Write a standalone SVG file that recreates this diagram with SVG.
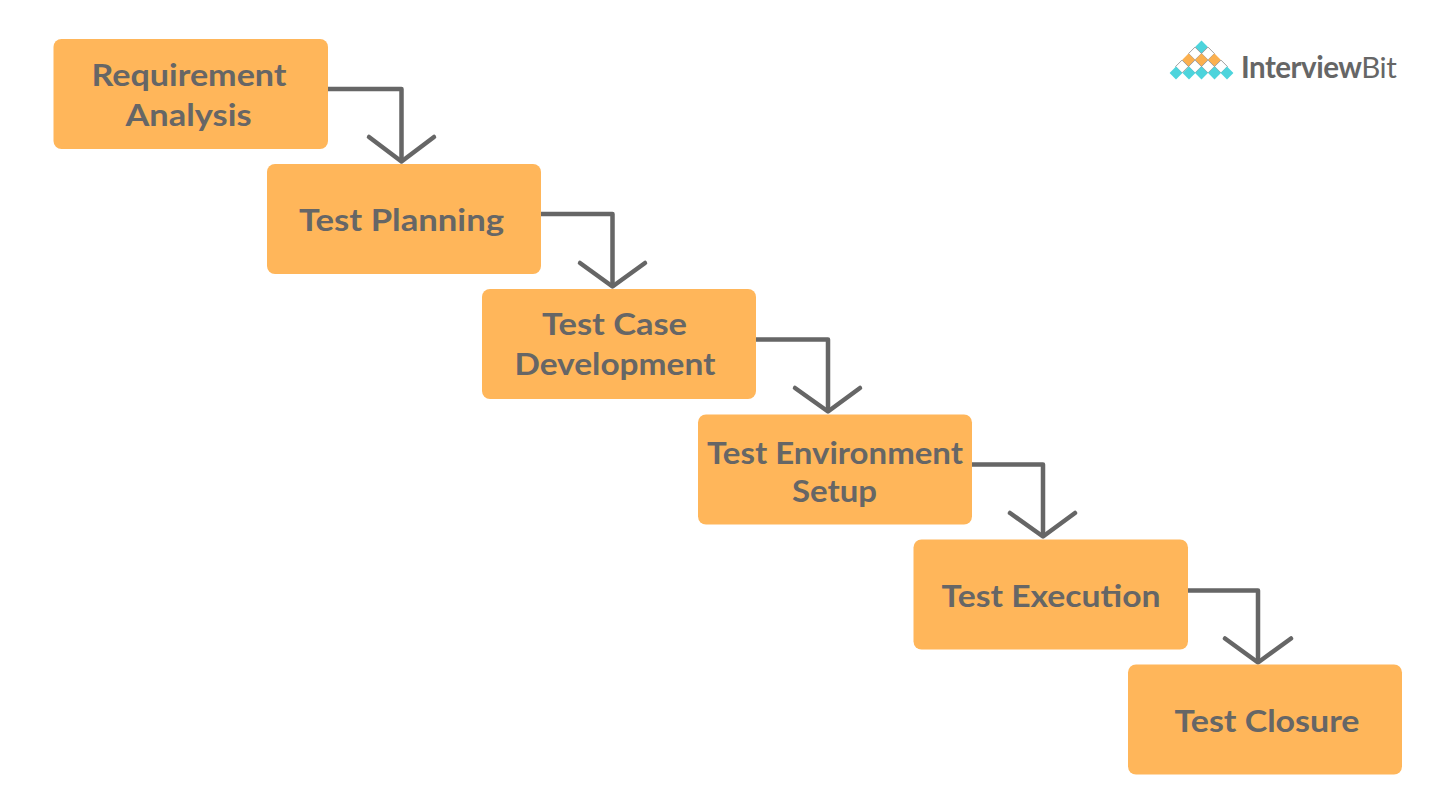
<svg xmlns="http://www.w3.org/2000/svg" width="1450" height="806" viewBox="0 0 1450 806">
<style>
.box{fill:#ffb65a}
.lbl{font-family:"Lato","Noto Sans",sans-serif;font-weight:700;font-size:31px;fill:#666666;text-anchor:middle}
.conn{fill:none;stroke:#666666;stroke-width:4.5;stroke-linejoin:round;stroke-linecap:butt}
.head{fill:none;stroke:#666666;stroke-width:4.5;stroke-linejoin:round;stroke-linecap:round}
.t{fill:#4dd4dc}.w{fill:#fff;stroke:#777777;stroke-width:.7}.o{fill:#fbb04f}
.logo{font-family:"Lato","Noto Sans",sans-serif;font-size:29.500px;letter-spacing:-.5px;fill:#666666}
</style>
<defs><path id="d" d="M0-6.400 6.400 0 0 6.400-6.400 0Z"/></defs>
<g id="connectors">
<path class="conn" d="M328 89H401.500V161.500"/><path class="head" d="M369 137 401.500 161.500 434 137"/>
<path class="conn" d="M541 214H612.500V286.500"/><path class="head" d="M580 263 612.500 286.500 645 263"/>
<path class="conn" d="M756 339.500H828V411.500"/><path class="head" d="M795 388 828 411.500 860 388"/>
<path class="conn" d="M972 464.500H1043V536.500"/><path class="head" d="M1010 513 1043 536.500 1075 513"/>
<path class="conn" d="M1188 590.500H1258V662.500"/><path class="head" d="M1225 638.500 1258 662.500 1291 638.500"/>
</g>
<g id="node-requirement"><rect class="box" x="53.500" y="39" width="274.500" height="110" rx="8"/><text class="lbl" x="189" y="86" textLength="195" lengthAdjust="spacingAndGlyphs">Requirement</text><text class="lbl" x="188.500" y="126" textLength="126" lengthAdjust="spacingAndGlyphs">Analysis</text></g>
<g id="node-planning"><rect class="box" x="267" y="164" width="274" height="110" rx="8"/><text class="lbl" x="401.500" y="231" textLength="205" lengthAdjust="spacingAndGlyphs">Test Planning</text></g>
<g id="node-case"><rect class="box" x="482" y="289" width="274" height="110" rx="8"/><text class="lbl" x="614.500" y="335" textLength="145" lengthAdjust="spacingAndGlyphs">Test Case</text><text class="lbl" x="615" y="375" textLength="201" lengthAdjust="spacingAndGlyphs">Development</text></g>
<g id="node-environment"><rect class="box" x="698" y="414.500" width="274" height="110" rx="8"/><text class="lbl" x="835" y="464" textLength="256" lengthAdjust="spacingAndGlyphs">Test Environment</text><text class="lbl" x="834.500" y="502" textLength="85" lengthAdjust="spacingAndGlyphs">Setup</text></g>
<g id="node-execution"><rect class="box" x="913.500" y="539.500" width="274.500" height="110" rx="8"/><text class="lbl" x="1051" y="607" textLength="219" lengthAdjust="spacingAndGlyphs">Test Execution</text></g>
<g id="node-closure"><rect class="box" x="1128" y="664.500" width="274" height="110" rx="8"/><text class="lbl" x="1267" y="732" textLength="185" lengthAdjust="spacingAndGlyphs">Test Closure</text></g>
<g id="logo">
<use href="#d" class="t" x="1201.500" y="47"/>
<use href="#d" class="w" x="1195" y="53.500"/><use href="#d" class="w" x="1208" y="53.500"/>
<use href="#d" class="o" x="1188.500" y="60"/><use href="#d" class="o" x="1201.500" y="60"/><use href="#d" class="o" x="1214.500" y="60"/>
<use href="#d" class="w" x="1182" y="66.500"/><use href="#d" class="w" x="1195" y="66.500"/><use href="#d" class="w" x="1208" y="66.500"/><use href="#d" class="w" x="1221" y="66.500"/>
<use href="#d" class="t" x="1176" y="73"/><use href="#d" class="t" x="1189" y="73"/><use href="#d" class="t" x="1201.500" y="73"/><use href="#d" class="t" x="1214.500" y="73"/><use href="#d" class="t" x="1227" y="73"/>
<text class="logo" x="1241" y="78" font-weight="700">Interview<tspan font-weight="400">Bit</tspan></text>
</g>
</svg>
